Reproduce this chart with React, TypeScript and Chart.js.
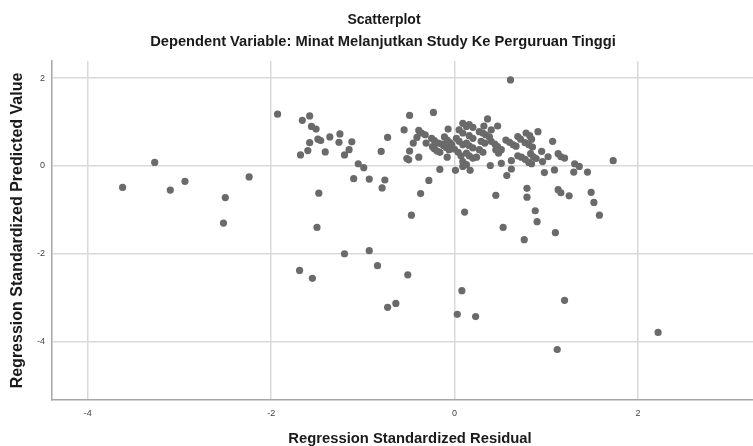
import React, { useEffect, useRef } from 'react';
import { Chart, registerables } from 'chart.js';

Chart.register(...registerables);

const TITLE = 'Scatterplot';
const SUBTITLE = 'Dependent Variable: Minat Melanjutkan Study Ke Perguruan Tinggi';
const X_LABEL = 'Regression Standardized Residual';
const Y_LABEL = 'Regression Standardized Predicted Value';

const X_TICKS = [-4, -2, 0, 2];
const Y_TICKS = [-4, -2, 0, 2];
const X_MIN = -4.39;
const X_MAX = 3.255;
const Y_MIN = -5.33;
const Y_MAX = 2.39;

// Regression standardized residual (x) for each case
const residuals = [
  -3.62, -3.27, -3.10, -2.94, -2.50, -2.52, -2.24, -1.93,
  -1.50, -1.20, -0.93, -1.69, -1.55, -0.84, -0.51, -0.73, -0.64, 0.08, 0.03, 0.23,
  0.53, 0.90, 0.76, 1.10, 1.20, 2.22, 1.12, 0.88,
  -1.66, -1.58, -1.56, -1.51, -1.58, -1.49, -1.46, -1.36, -1.25, -1.26, -1.12, -1.15,
  -1.20, -1.41, -1.60, -1.68,
  -1.48, -1.10, -0.93, -1.05, -0.99, -0.76, -0.79, -0.80, -0.73, -0.47, -0.37, -0.28,
  -0.16, 0.01, 0.09, 0.17, 0.11, 0.39, 0.45, 0.57, 0.61,
  -0.49, -0.23, -0.55, -0.39, -0.36, -0.32, -0.41, -0.45, -0.49, -0.52, -0.50, -0.39,
  -0.31, -0.25, -0.22, -0.18, -0.24, -0.22, -0.19, -0.16, -0.11, -0.08, -0.05, -0.03,
  -0.14, -0.12, -0.09, -0.06, -0.08, -0.07, 0.09, 0.13, 0.05, 0.09, 0.02, 0.05,
  0.09, 0.00, 0.04, 0.07, 0.09, 0.13,
  0.36, 0.32, 0.47, 0.16, 0.20, 0.27, 0.31, 0.34, 0.38, 0.16, 0.20, 0.13,
  0.16, 0.20, 0.29, 0.33, 0.40, 0.44, 0.47, 0.51, 0.56, 0.60, 0.64, 0.69,
  0.72, 0.78, 0.82, 0.84, 0.91, 0.27, 0.31, 0.45, 0.48, 0.13, 0.16, 0.20,
  0.24, 0.62, 0.69, 0.73, 0.77, 0.83, 0.86, 0.89, 0.51, 0.62, 0.81, 0.84,
  0.96, 1.02, 1.13, 1.16, 1.20, 1.09, 1.31, 1.36, 1.30, 1.45, 0.98, 1.73,
  0.79, 0.79, 1.13, 1.16, 1.25, 1.49, 1.52, 1.58, 0.40, 0.77, 0.81, 0.85,
  0.95, 1.07, 0.67,
];

// Regression standardized predicted value (y) for each case
const predicted = [
  -0.49, 0.08, -0.55, -0.35, -0.72, -1.30, -0.25, 1.18,
  -1.40, -2.00, -1.93, -2.38, -2.56, -2.27, -2.48, -3.22, -3.13, -2.84, -3.38, -3.43,
  -1.40, -1.27, -1.68, -1.52, -3.06, -3.79, -4.18, -1.02,
  1.04, 1.14, 0.90, 0.84, 0.53, 0.61, 0.58, 0.66, 0.73, 0.54, 0.55, 0.37,
  0.25, 0.32, 0.35, 0.25,
  -0.62, -0.29, -0.30, 0.05, -0.04, -0.32, -0.50, 0.33, 0.65, -1.12, -0.63, -0.33,
  -0.08, -0.10, -0.01, -0.10, -1.05, 0.01, -0.67, -0.22, 1.96,
  1.15, 1.22, 0.82, 0.81, 0.75, 0.71, 0.65, 0.52, 0.34, 0.17, 0.14, 0.20,
  0.52, 0.63, 0.58, 0.52, 0.44, 0.39, 0.34, 0.31, 0.66, 0.59, 0.53, 0.48,
  0.50, 0.46, 0.42, 0.37, 0.20, 0.84, 0.97, 0.90, 0.82, 0.75, 0.63, 0.56,
  0.48, 0.38, 0.31, 0.23, 0.10, 0.03,
  1.07, 0.91, 0.91, 0.94, 0.88, 0.78, 0.75, 0.71, 0.66, 0.69, 0.63, 0.52,
  0.46, 0.41, 0.56, 0.52, 0.56, 0.50, 0.44, 0.37, 0.59, 0.54, 0.48, 0.67,
  0.61, 0.75, 0.69, 0.61, 0.78, 0.37, 0.31, 0.37, 0.29, 0.29, 0.23, 0.18,
  0.20, 0.12, 0.23, 0.20, 0.15, 0.28, 0.21, 0.17, 0.06, -0.07, 0.08, 0.05,
  0.10, 0.21, 0.28, 0.21, 0.18, -0.09, 0.05, -0.01, -0.14, -0.14, -0.15, 0.12,
  -0.51, -0.71, -0.54, -0.61, -0.68, -0.60, -0.83, -1.12, 0.82, 0.53, 0.48, 0.43,
  0.33, 0.56, 0.45,
];

const FONT = '"Liberation Sans", Arial, Helvetica, sans-serif';

const titlesPlugin = {
  id: 'spssTitles',
  afterDraw(chart: any) {
    const ctx = chart.ctx;
    ctx.save();
    ctx.fillStyle = '#1a1a1a';
    ctx.textAlign = 'center';
    ctx.textBaseline = 'middle';
    ctx.font = `bold 14px ${FONT}`;
    ctx.fillText(TITLE, 384, 20.5);
    ctx.font = `bold 14.7px ${FONT}`;
    ctx.fillText(SUBTITLE, 383, 41.5);
    ctx.font = `bold 14.8px ${FONT}`;
    ctx.fillText(X_LABEL, 410, 439);
    ctx.restore();
  },
};

export default function App() {
  const canvasRef = useRef<HTMLCanvasElement | null>(null);

  useEffect(() => {
    document.body.style.margin = '0';
    const canvas = canvasRef.current;
    if (!canvas) return;
    const points = residuals.map((x, i) => ({ x, y: predicted[i] }));
    const chart = new Chart(canvas, {
      type: 'scatter',
      data: {
        datasets: [
          {
            data: points,
            backgroundColor: '#6a6a6a',
            borderColor: '#6a6a6a',
            borderWidth: 0,
            pointRadius: 3.6,
            pointHoverRadius: 3.6,
          },
        ],
      },
      plugins: [titlesPlugin],
      options: {
        animation: false,
        responsive: false,
        devicePixelRatio: 1,
        layout: { autoPadding: false, padding: { top: 61, left: 0, right: 0, bottom: 0 } },
        plugins: {
          legend: { display: false },
          tooltip: { enabled: false },
          title: { display: false },
        },
        scales: {
          x: {
            type: 'linear',
            min: X_MIN,
            max: X_MAX,
            afterBuildTicks: (s: any) => {
              s.ticks = X_TICKS.map((v) => ({ value: v }));
            },
            afterFit: (s: any) => {
              s.height = 46;
              s.paddingLeft = 0;
              s.paddingRight = 0;
            },
            ticks: {
              font: { size: 9, family: FONT },
              color: '#444',
              padding: 8,
              callback: (v: any) => String(v),
            },
            grid: { color: '#d9d9d9', lineWidth: 1.5, drawTicks: false },
            border: { display: true, color: '#a6a6a6', width: 1.5 },
            title: { display: false },
          },
          y: {
            type: 'linear',
            min: Y_MIN,
            max: Y_MAX,
            afterBuildTicks: (s: any) => {
              s.ticks = Y_TICKS.map((v) => ({ value: v }));
            },
            afterFit: (s: any) => {
              s.width = 52;
              s.paddingTop = 0;
              s.paddingBottom = 0;
            },
            ticks: {
              font: { size: 9, family: FONT },
              color: '#444',
              padding: 7,
              callback: (v: any) => String(v),
            },
            grid: { color: '#d9d9d9', lineWidth: 1.5, drawTicks: false },
            border: { display: true, color: '#a6a6a6', width: 1.5 },
            title: {
              display: true,
              text: Y_LABEL,
              color: '#1a1a1a',
              font: { size: 16, weight: 'bold', family: FONT, lineHeight: 1.2 },
              padding: { top: 8.4, bottom: 0 },
            },
          },
        },
      },
    });
    return () => chart.destroy();
  }, []);

  return (
    <div style={{ width: 753, height: 446 }}>
      <canvas ref={canvasRef} width={753} height={446} />
    </div>
  );
}
